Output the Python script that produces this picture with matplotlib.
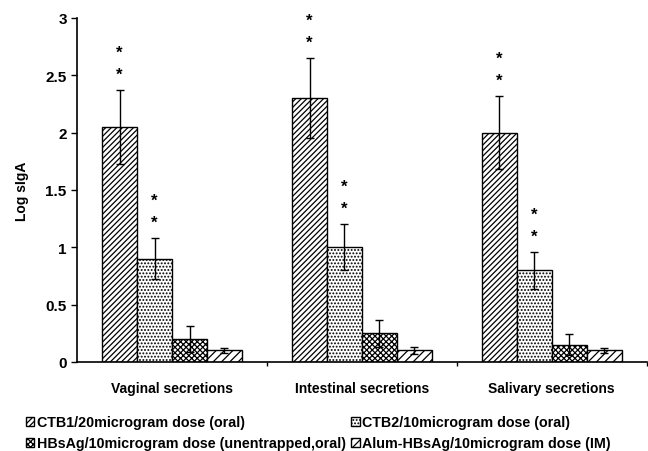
import matplotlib.pyplot as plt
import numpy as np
from matplotlib.patches import Patch

plt.rcParams['font.family'] = ['Liberation Sans', 'DejaVu Sans']
plt.rcParams['font.weight'] = 'bold'
plt.rcParams['axes.labelweight'] = 'bold'
plt.rcParams['hatch.linewidth'] = 0.9

groups = ['Vaginal secretions', 'Intestinal secretions', 'Salivary secretions']
series = ['CTB1/20microgram dose (oral)', 'CTB2/10microgram dose (oral)',
          'HBsAg/10microgram dose (unentrapped,oral)', 'Alum-HBsAg/10microgram dose (IM)']
values = [[2.05, 2.30, 2.00],
          [0.90, 1.00, 0.80],
          [0.20, 0.25, 0.15],
          [0.10, 0.10, 0.10]]
errors = [[0.32, 0.35, 0.32],
          [0.18, 0.20, 0.16],
          [0.11, 0.12, 0.09],
          [0.02, 0.03, 0.02]]
starred = [0, 1]   # series marked with ** above the bars
hatches = ['//////', '.....', 'xxxxxx', '////']

fig = plt.figure(figsize=(6.48, 4.52), dpi=100)
ax = fig.add_axes([0.119, 0.197, 0.879, 0.761])

x = np.arange(len(groups)) + 0.5
w = 0.184
for i in range(len(series)):
    pos = x + (i - 1.5) * w
    ax.bar(pos, values[i], w, color='white', edgecolor='black', linewidth=1.0,
           hatch=hatches[i], label=series[i])
    ax.errorbar(pos, values[i], yerr=errors[i], fmt='none', ecolor='black',
                elinewidth=1.0, capsize=3, capthick=1.0)
    if i in starred:
        for p, v, e in zip(pos, values[i], errors[i]):
            ax.text(p, v + e + 0.14, '*', ha='center', va='center', fontsize=12)
            ax.text(p, v + e + 0.33, '*', ha='center', va='center', fontsize=12)

ax.set_xlim(0, 3)
ax.set_ylim(0, 3)
ax.set_yticks([0, 0.5, 1, 1.5, 2, 2.5, 3])
ax.set_yticklabels(['0', '0.5', '1', '1.5', '2', '2.5', '3'])
ax.set_xticks([1, 2, 3])
ax.set_xticklabels([])
ax.set_xticks(x, minor=True)
ax.set_xticklabels(groups, minor=True)
ax.tick_params(axis='x', which='minor', length=0, pad=14, labelsize=10)
ax.tick_params(axis='x', which='major', length=3, width=1)
ax.tick_params(axis='y', length=4, width=1, labelsize=11)
ax.set_ylabel('Log sIgA', fontsize=10, labelpad=12)
for s in ['top', 'right']:
    ax.spines[s].set_visible(False)
for s in ['left', 'bottom']:
    ax.spines[s].set_linewidth(1.2)

handles = [Patch(facecolor='white', edgecolor='black', hatch=h, label=l)
           for h, l in zip(hatches, series)]
order = [0, 2, 1, 3]
fig.legend([handles[k] for k in order], [series[k] for k in order], ncol=2,
           loc='lower left', bbox_to_anchor=(0.02, -0.027), frameon=False,
           handlelength=0.6, handleheight=0.6, handletextpad=0.15,
           columnspacing=0.4, labelspacing=0.5, fontsize=10.3)

fig.savefig('out.png', dpi=100)
